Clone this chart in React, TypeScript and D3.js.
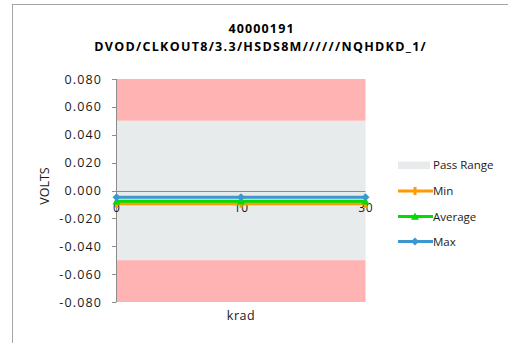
import React from "react";
import * as d3 from "d3";

const titleLines = ["40000191", "DVOD/CLKOUT8/3.3/HSDS8M//////NQHDKD_1/"];
const categories = ["0", "10", "30"];
const minValues = [-0.0095, -0.0095, -0.0095];
const avgValues = [-0.0077, -0.0077, -0.0077];
const maxValues = [-0.0049, -0.0049, -0.0049];
const passRange = [-0.05, 0.05];
const yDomain = [-0.08, 0.08];
const yTicks = [-0.08, -0.06, -0.04, -0.02, 0, 0.02, 0.04, 0.06, 0.08];
const legendLabels = ["Pass Range", "Min", "Average", "Max"];

const W = 508;
const H = 343;
const FONT = "'Open Sans', sans-serif";

const COLORS = {
  fail: "#FFB3B3",
  pass: "#E7EBEB",
  min: "#FF9A00",
  avg: "#00DD00",
  max: "#3D97CF",
  axis: "#8C8C8C",
};

function Marker({ kind, x, y, color }: { kind: string; x: number; y: number; color: string }) {
  if (kind === "diamond") {
    const s = 4;
    return <path d={`M${x},${y - s}L${x + s},${y}L${x},${y + s}L${x - s},${y}Z`} fill={color} />;
  }
  if (kind === "triangle") {
    const s = 4;
    return <path d={`M${x},${y - s}L${x + s},${y + s * 0.8}L${x - s},${y + s * 0.8}Z`} fill={color} />;
  }
  return <rect x={x - 1.5} y={y - 4} width={3} height={8} fill={color} />;
}

export default function App() {
  const x = d3.scalePoint<string>().domain(categories).range([116.5, 365.5]).padding(0);
  const y = d3.scaleLinear().domain(yDomain).range([302, 79]);
  const line = d3
    .line<number>()
    .x((_, i) => x(categories[i]) as number)
    .y((d) => y(d));

  const series = [
    { name: legendLabels[1], values: minValues, color: COLORS.min, marker: "plus" },
    { name: legendLabels[2], values: avgValues, color: COLORS.avg, marker: "triangle" },
    { name: legendLabels[3], values: maxValues, color: COLORS.max, marker: "diamond" },
  ];

  const [x0, x1] = x.range();
  const legendX = 398;
  const legendYs = [165, 191, 216.5, 241.5];
  const ls = 1.15;

  return (
    <svg
      width={W}
      height={H}
      style={{ position: "absolute", left: 0, top: 0, background: "#fff" }}
      fontFamily={FONT}
    >
      <rect x={12.5} y={4.5} width={W + 10} height={H + 10} fill="#fff" stroke="#A6A6A6" strokeWidth={1} />

      {/* title */}
      <text x={261 + ls / 2} y={33} textAnchor="middle" fontWeight="bold" fontSize={12.5} letterSpacing={ls} fill="#000">
        {titleLines[0]}
      </text>
      <text x={260 + 0.65} y={51} textAnchor="middle" fontWeight="bold" fontSize={12.5} letterSpacing={1.3} fill="#000">
        {titleLines[1]}
      </text>

      {/* bands */}
      <rect x={x0} y={y(yDomain[1])} width={x1 - x0} height={y(passRange[1]) - y(yDomain[1])} fill={COLORS.fail} />
      <rect x={x0} y={y(passRange[1])} width={x1 - x0} height={y(passRange[0]) - y(passRange[1])} fill={COLORS.pass} />
      <rect x={x0} y={y(passRange[0])} width={x1 - x0} height={y(yDomain[0]) - y(passRange[0])} fill={COLORS.fail} />

      {/* y axis */}
      <line x1={x0} x2={x0} y1={y(yDomain[0])} y2={y(yDomain[1])} stroke={COLORS.axis} />
      {yTicks.map((t) => (
        <g key={t}>
          <line x1={x0 - 4.5} x2={x0} y1={Math.round(y(t)) + 0.5} y2={Math.round(y(t)) + 0.5} stroke={COLORS.axis} />
          <text x={101 + ls} y={y(t) + 4.5} textAnchor="end" fontSize={12.5} letterSpacing={ls} fill="#1a1a1a">
            {t.toFixed(3)}
          </text>
        </g>
      ))}
      <text
        transform={`translate(48.5,186) rotate(-90)`}
        textAnchor="middle"
        fontSize={12.5}
        fill="#1a1a1a"
      >
        VOLTS
      </text>

      {/* zero axis */}
      <line x1={x0} x2={x1} y1={Math.round(y(0)) + 0.5} y2={Math.round(y(0)) + 0.5} stroke={COLORS.axis} />
      {categories.map((c) => (
        <text key={c} x={(x(c) as number) + 0.3} y={211.5} textAnchor="middle" fontSize={12} letterSpacing={0.6} fill="#1a1a1a">
          {c}
        </text>
      ))}
      <text x={241} y={319.5} textAnchor="middle" fontSize={12.5} letterSpacing={0.5} fill="#1a1a1a">
        krad
      </text>

      {/* series */}
      {series.map((s) => (
        <g key={s.name}>
          <path d={line(s.values) || ""} fill="none" stroke={s.color} strokeWidth={3} />
          {s.values.map((v, i) => (
            <Marker key={i} kind={s.marker} x={x(categories[i]) as number} y={y(v)} color={s.color} />
          ))}
        </g>
      ))}

      {/* legend */}
      <rect x={legendX} y={legendYs[0] - 3.5} width={32} height={7.5} fill={COLORS.pass} />
      <text x={433} y={legendYs[0] + 4} fontSize={11.5} fill="#1a1a1a">
        {legendLabels[0]}
      </text>
      {series.map((s, i) => (
        <g key={s.name}>
          <line x1={legendX} x2={legendX + 35} y1={legendYs[i + 1]} y2={legendYs[i + 1]} stroke={s.color} strokeWidth={3} />
          <Marker kind={s.marker} x={legendX + 17} y={legendYs[i + 1]} color={s.color} />
          <text x={433} y={legendYs[i + 1] + 4} fontSize={11.5} fill="#1a1a1a">
            {s.name}
          </text>
        </g>
      ))}
    </svg>
  );
}
